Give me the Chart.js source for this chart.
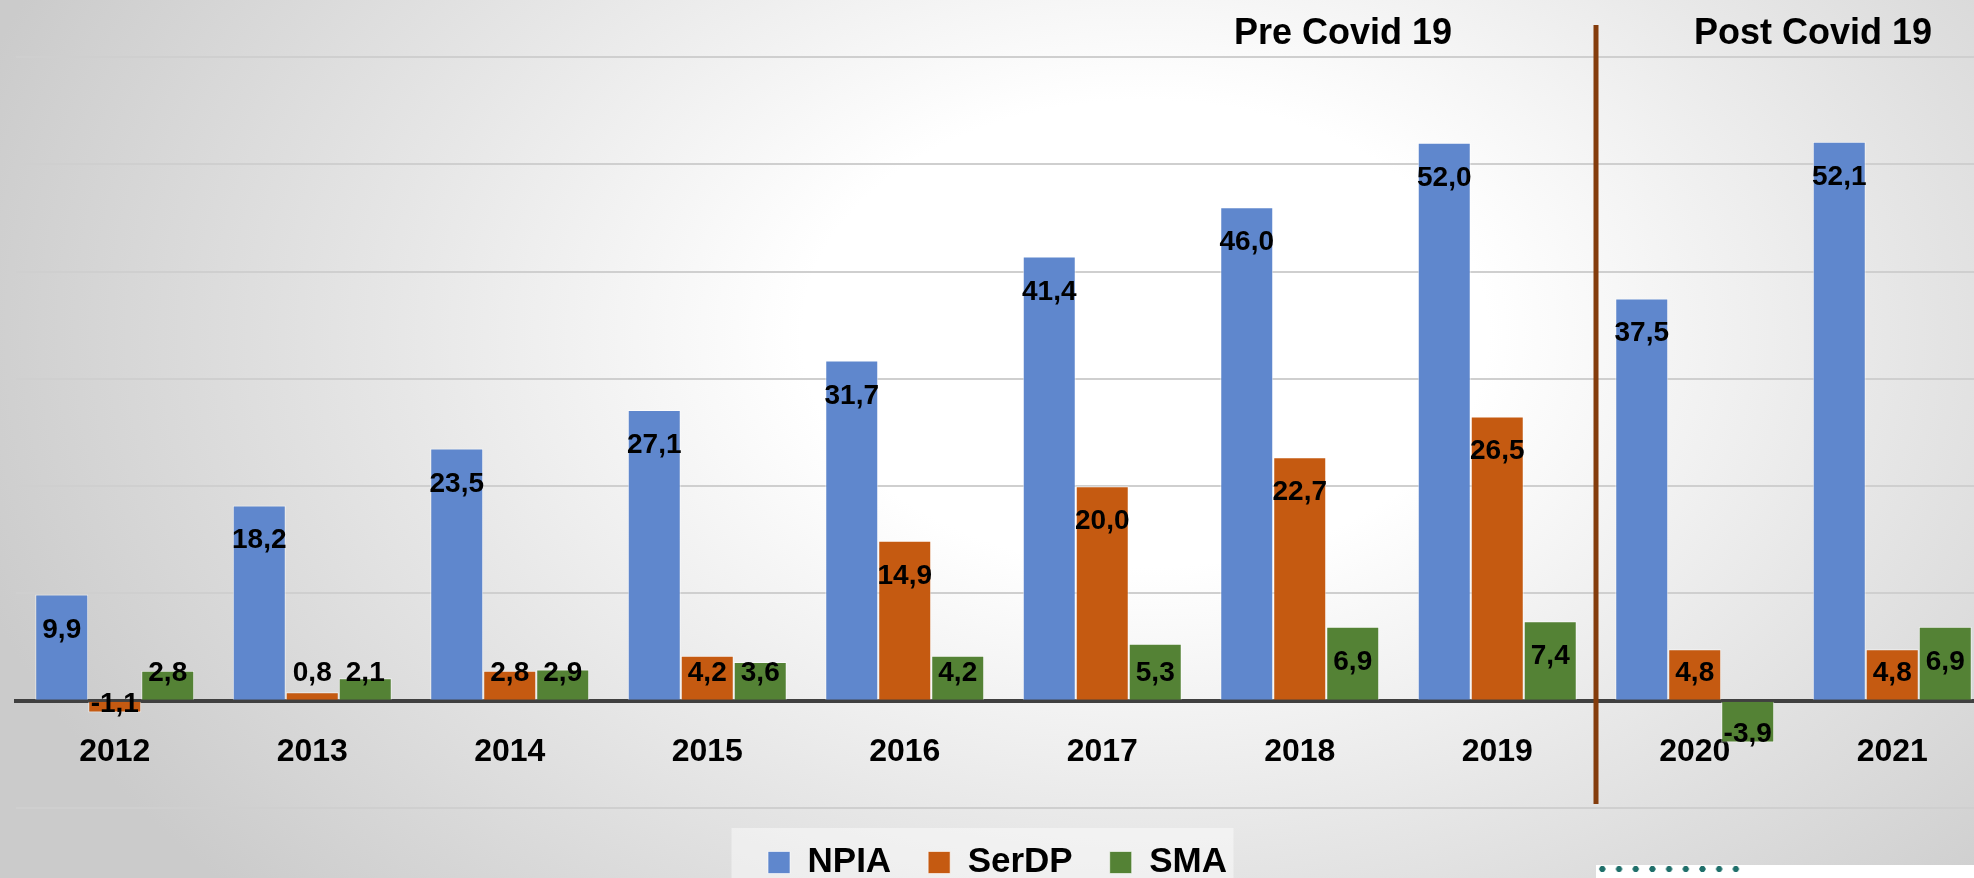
<!DOCTYPE html>
<html>
<head>
<meta charset="utf-8">
<script src="https://cdn.jsdelivr.net/npm/chart.js@4.4.1/dist/chart.umd.min.js"></script>
<style>
    html, body {
        margin: 0;
        padding: 0;
        width: 1974px;
        height: 878px;
        overflow: hidden;
    }
    body {
        position: relative;
        background: radial-gradient(ellipse 62% 95% at 58% 38%, #ffffff 0%, #ffffff 28%, #e6e6e6 62%, #cbcbcb 100%);
    }
    #chart {
        position: absolute;
        left: 0;
        top: 0;
    }
    .corner {
        position: absolute;
        left: 1596px;
        top: 865px;
        width: 378px;
        height: 13px;
        background: #ffffff;
    }
    .dots {
        position: absolute;
        left: 1594px;
        top: 864px;
        width: 150px;
        height: 10px;
        background: radial-gradient(circle, #1f6f6a 2.8px, transparent 3.4px) 0 0 / 16.7px 10px repeat-x;
    }
</style>
</head>
<body>
<canvas id="chart" width="1991" height="890"></canvas>
<div class="corner"></div>
<div class="dots"></div>
<script>
// values (percent change vs base year)
const years = ['2012', '2013', '2014', '2015', '2016', '2017', '2018', '2019', '2020', '2021'];
const npia  = [9.9, 18.2, 23.5, 27.1, 31.7, 41.4, 46.0, 52.0, 37.5, 52.1];
const serdp = [-1.1, 0.8, 2.8, 4.2, 14.9, 20.0, 22.7, 26.5, 4.8, 4.8];
const sma   = [2.8, 2.1, 2.9, 3.6, 4.2, 5.3, 6.9, 7.4, -3.9, 6.9];
const periodLabels = ['Pre Covid 19', 'Post Covid 19'];

const FONT = "'Liberation Sans', Arial, sans-serif";

// value labels inside bar ends, comma as decimal mark
const barLabels = {
    id: 'barLabels',
    afterDatasetsDraw(chart) {
        const ctx = chart.ctx;
        ctx.save();
        ctx.font = 'bold 28px ' + FONT;
        ctx.fillStyle = '#000000';
        ctx.textAlign = 'center';
        ctx.textBaseline = 'alphabetic';
        chart.data.datasets.forEach((ds, i) => {
            const meta = chart.getDatasetMeta(i);
            meta.data.forEach((bar, j) => {
                const v = ds.data[j];
                const txt = v.toFixed(1).replace('.', ',');
                let y;
                if (v >= 0) {
                    y = Math.min(bar.y + 43, bar.base - 19);
                } else {
                    y = bar.y - 1;
                }
                ctx.fillText(txt, bar.x, y);
            });
        });
        ctx.restore();
    }
};

// brown divider between 2019 and 2020 plus the period captions
const covidDivider = {
    id: 'covidDivider',
    afterDatasetsDraw(chart) {
        const ctx = chart.ctx;
        const x = (chart.scales.x.getPixelForValue(7) + chart.scales.x.getPixelForValue(8)) / 2;
        ctx.save();
        ctx.fillStyle = '#843c0c';
        ctx.fillRect(x - 2.5, 25, 5, 779);
        ctx.font = 'bold 36px ' + FONT;
        ctx.fillStyle = '#000000';
        ctx.textBaseline = 'alphabetic';
        ctx.textAlign = 'right';
        ctx.fillText(periodLabels[0], x - 144, 44);
        ctx.textAlign = 'left';
        ctx.fillText(periodLabels[1], x + 98, 44);
        ctx.restore();
    }
};

// legend sits a bit left of the canvas centre, with a faint panel behind it
const legendPanel = {
    id: 'legendPanel',
    afterLayout(chart) {
        chart.legend.left -= 6;
        chart.legend.right -= 6;
    },
    beforeDraw(chart) {
        const lg = chart.legend;
        if (!lg) return;
        const c = (lg.left + lg.right) / 2;
        const ctx = chart.ctx;
        ctx.save();
        ctx.fillStyle = 'rgba(255,255,255,0.45)';
        ctx.fillRect(c - 266, 828, 502, chart.height - 828);
        ctx.restore();
    }
};

const ctx = document.getElementById('chart').getContext('2d');
new Chart(ctx, {
    type: 'bar',
    data: {
        labels: years,
        datasets: [
            { label: 'NPIA', data: npia, backgroundColor: '#5f87cd', borderColor: 'rgba(255,255,255,0.6)', borderWidth: 1 },
            { label: 'SerDP', data: serdp, backgroundColor: '#c55a11', borderColor: 'rgba(255,255,255,0.6)', borderWidth: 1 },
            { label: 'SMA', data: sma, backgroundColor: '#548235', borderColor: 'rgba(255,255,255,0.6)', borderWidth: 1 }
        ]
    },
    options: {
        responsive: false,
        animation: false,
        layout: { padding: { left: 16, top: 57, right: 0, bottom: 0 } },
        datasets: {
            bar: { categoryPercentage: 0.805, barPercentage: 1.0 }
        },
        plugins: {
            legend: {
                position: 'bottom',
                labels: {
                    color: '#000000',
                    font: { family: FONT, size: 35, weight: 'bold' },
                    boxWidth: 22,
                    boxHeight: 22,
                    padding: 37
                }
            },
            tooltip: { enabled: false }
        },
        scales: {
            x: {
                position: { y: 0 },
                z: 1,
                grid: { display: false, drawTicks: false },
                border: { display: true, color: '#404040', width: 4 },
                ticks: {
                    color: '#000000',
                    padding: 32,
                    font: { family: FONT, size: 32, weight: 'bold' }
                }
            },
            y: {
                min: -10,
                max: 60,
                ticks: { display: false, stepSize: 10 },
                grid: { color: '#cfcfcf', lineWidth: 2, drawTicks: false },
                border: { display: false }
            }
        }
    },
    plugins: [legendPanel, barLabels, covidDivider]
});
</script>
</body>
</html>
